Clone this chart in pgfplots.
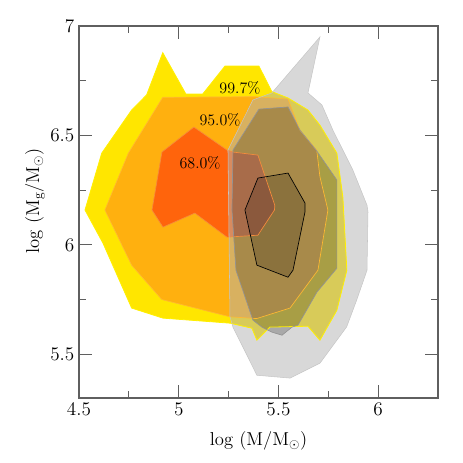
\documentclass[border=0pt]{standalone}
\usepackage{pgfplots}
\usepackage{pgfplotstable}
\pgfplotsset{compat=1.18}
\definecolor{cY}{RGB}{255,230,0}
\definecolor{cO}{RGB}{255,176,15}
\definecolor{cR}{RGB}{255,100,12}
\definecolor{cG1}{RGB}{178,178,178}
\definecolor{axc}{RGB}{95,95,95}
\definecolor{eY}{RGB}{255,240,0}
\definecolor{eO}{RGB}{255,185,50}
\definecolor{eR}{RGB}{245,140,60}

% 99.7% contour, first sample
\pgfplotstableread{
x y
4.530 6.159
4.614 6.419
4.764 6.616
4.839 6.685
4.920 6.878
5.036 6.689
5.120 6.689
5.232 6.817
5.402 6.817
5.467 6.700
5.548 6.671
5.648 6.616
5.708 6.547
5.793 6.419
5.823 6.218
5.843 5.884
5.793 5.701
5.708 5.564
5.648 5.628
5.457 5.624
5.392 5.564
5.367 5.619
5.257 5.642
4.921 5.665
4.764 5.711
4.620 6.008
4.530 6.159
}\tY
% 95% contour, first sample
\pgfplotstableread{
x y
4.920 6.674
5.382 6.677
5.548 6.666
5.608 6.524
5.692 6.433
5.708 6.311
5.748 6.159
5.698 5.884
5.558 5.711
5.391 5.663
5.257 5.671
4.915 5.750
4.764 5.907
4.630 6.159
4.747 6.418
4.920 6.674
}\tO
% 68% contour, first sample
\pgfplotstableread{
x y
4.916 6.424
5.076 6.538
5.242 6.433
5.272 6.424
5.397 6.410
5.482 6.180
5.480 6.159
5.397 6.044
5.242 6.035
5.081 6.145
4.921 6.081
4.866 6.159
4.916 6.424
}\tR
% 99.7% contour, second sample
\pgfplotstableread{
x y
5.257 5.671
5.247 6.433
5.372 6.662
5.467 6.694
5.708 6.950
5.648 6.694
5.718 6.639
5.773 6.524
5.873 6.342
5.944 6.181
5.949 6.150
5.944 5.884
5.892 5.747
5.842 5.625
5.708 5.459
5.558 5.391
5.392 5.404
5.272 5.624
5.257 5.671
}\tGa
% 95% contour, second sample
\pgfplotstableread{
x y
5.272 6.433
5.402 6.620
5.548 6.630
5.608 6.524
5.689 6.433
5.793 6.296
5.793 5.893
5.693 5.784
5.598 5.633
5.568 5.624
5.518 5.587
5.467 5.601
5.417 5.624
5.372 5.656
5.287 5.884
5.267 6.159
5.272 6.433
}\tGb
% 68% contour, second sample
\pgfplotstableread{
x y
5.397 6.305
5.548 6.328
5.633 6.191
5.633 6.150
5.573 5.884
5.548 5.852
5.392 5.907
5.332 6.159
5.397 6.305
}\tGc

\begin{document}
\begin{tikzpicture}
\begin{axis}[name=ax,
  scale only axis, width=269.25pt, height=279pt,
  xmin=4.5, xmax=6.3, ymin=5.3, ymax=7,
  xtick={4.5,5,5.5,6}, ytick={5.5,6,6.5,7},
  minor x tick num=1, minor y tick num=1,
  tick align=inside, major tick length=9.5pt, minor tick length=5pt,
  axis line style={axc, line width=0.8pt},
  every tick/.style={axc, line width=0.8pt},
  ticklabel style={font=\fontsize{14}{16}\selectfont},
  label style={font=\fontsize{14}{16}\selectfont},
  xlabel={log (M/M$_\odot$)},
  ylabel={log (M$_{\rm g}$/M$_\odot$)},
  xlabel style={at={(axis description cs:0.5,-0.1156)}, anchor=center},
  ylabel style={at={(axis description cs:-0.1226,0.53)}, anchor=center},
]
\addplot[fill=cY, draw=none] table {\tY} -- cycle;
\addplot[fill=cO, draw=none] table {\tO} -- cycle;
\addplot[fill=cR, draw=none] table {\tR} -- cycle;
\addplot[fill=cG1, fill opacity=0.5, draw=none] table {\tGa} -- cycle;
\addplot[fill=black, fill opacity=0.22, draw=none] table {\tGb} -- cycle;
\addplot[fill=black, fill opacity=0.17, draw=none] table {\tGc} -- cycle;
\addplot[draw=eY, line width=0.6pt] table {\tY};
\addplot[draw=eO, line width=0.5pt] table {\tO};
\addplot[draw=eR, line width=0.5pt] table {\tR};
\addplot[draw=gray!45, line width=0.4pt] table {\tGa};
\addplot[draw=gray!85, line width=0.5pt] table {\tGb};
\addplot[draw=black, line width=0.5pt] table {\tGc};
\node[font=\fontsize{12}{14}\selectfont] at (axis cs:5.307,6.716) {99.7\%};
\node[font=\fontsize{12}{14}\selectfont] at (axis cs:5.207,6.570) {95.0\%};
\node[font=\fontsize{12}{14}\selectfont] at (axis cs:5.107,6.374) {68.0\%};
\end{axis}
\pgfresetboundingbox
\path ([shift={(-59.25pt,-48.75pt)}]ax.south west) rectangle ([shift={(18.75pt,19.5pt)}]ax.north east);
\end{tikzpicture}
\end{document}
